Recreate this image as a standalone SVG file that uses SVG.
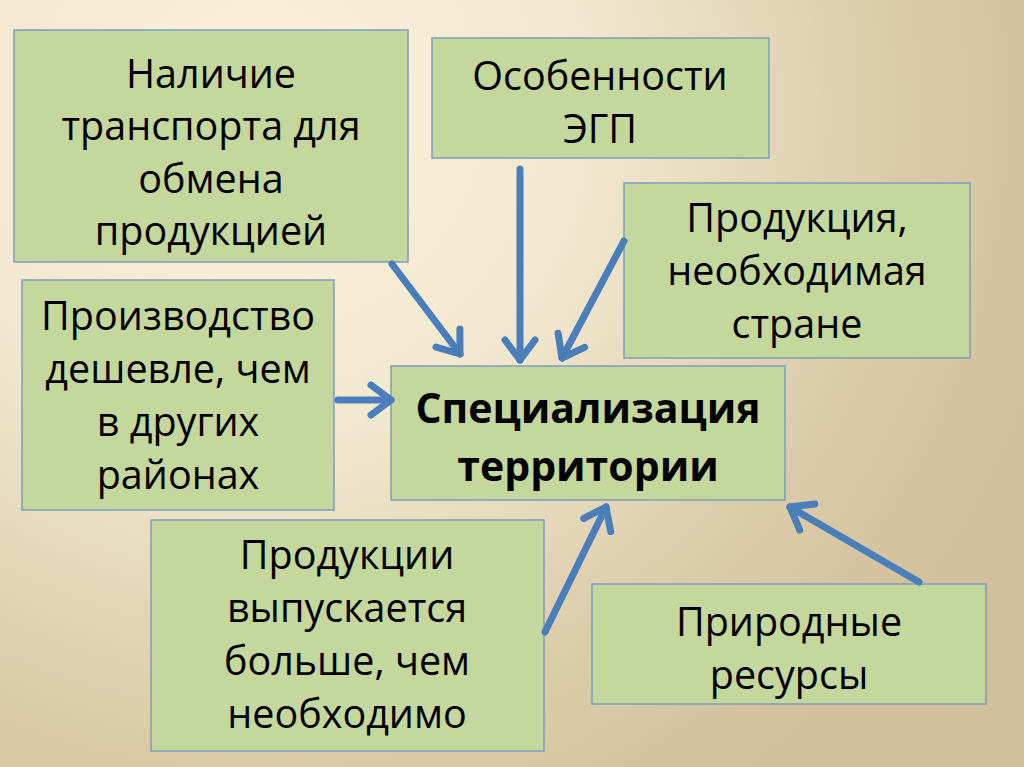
<svg xmlns="http://www.w3.org/2000/svg" width="1024" height="767" viewBox="0 0 1024 767">
<defs>
<radialGradient id="bg" cx="260" cy="110" r="820" gradientUnits="userSpaceOnUse">
<stop offset="0" stop-color="#fcf1da"/>
<stop offset="0.4" stop-color="#f2e8cf"/>
<stop offset="0.75" stop-color="#dccdab"/>
<stop offset="1" stop-color="#d2c09c"/>
</radialGradient>
<marker id="ah" markerUnits="userSpaceOnUse" viewBox="-30 -20 40 40" markerWidth="40" markerHeight="40" refX="0" refY="0" orient="auto">
<path d="M -20 -15 L 0 0 L -20 15" fill="none" stroke="#4a7ebb" stroke-width="7" stroke-linecap="round" stroke-linejoin="round"/>
</marker>
<style>
.box{fill:#c4d79c;stroke:#7f9cbf;stroke-width:1.5}
.t{font-family:"Open Sans","Noto Sans",sans-serif;font-size:39.5px;fill:#000;text-anchor:middle}
.b{font-family:"Open Sans","Noto Sans",sans-serif;font-size:41px;font-weight:bold;fill:#000;text-anchor:middle}
.c{stroke:#4a7ebb;stroke-width:7;fill:none;stroke-linecap:round;marker-end:url(#ah)}
</style>
</defs>
<rect width="1024" height="767" fill="url(#bg)"/>
<g id="n1"><rect class="box" x="14" y="30" width="394" height="232"/>
<text class="t" x="211" y="88">Наличие</text><text class="t" x="211" y="140">транспорта для</text><text class="t" x="211" y="193">обмена</text><text class="t" x="211" y="245">продукцией</text></g>
<g id="n2"><rect class="box" x="432" y="38" width="337" height="120"/>
<text class="t" x="600" y="90">Особенности</text><text class="t" x="600" y="143">ЭГП</text></g>
<g id="n3"><rect class="box" x="624" y="183" width="346" height="175"/>
<text class="t" x="797" y="232">Продукция,</text><text class="t" x="797" y="285">необходимая</text><text class="t" x="797" y="338">стране</text></g>
<g id="n4"><rect class="box" x="22" y="280" width="312" height="230"/>
<text class="t" x="178" y="330">Производство</text><text class="t" x="178" y="383">дешевле, чем</text><text class="t" x="178" y="436">в других</text><text class="t" x="178" y="489">районах</text></g>
<g id="n5"><rect class="box" x="391" y="366" width="394" height="134"/>
<text class="b" x="588" y="423">Специализация</text><text class="b" x="588" y="481">территории</text></g>
<g id="n6"><rect class="box" x="151" y="520" width="393" height="231"/>
<text class="t" x="347" y="569">Продукции</text><text class="t" x="347" y="622">выпускается</text><text class="t" x="347" y="675">больше, чем</text><text class="t" x="347" y="728">необходимо</text></g>
<g id="n7"><rect class="box" x="592" y="584" width="394" height="120"/>
<text class="t" x="789" y="636">Природные</text><text class="t" x="789" y="689">ресурсы</text></g>
<g id="connectors">
<line class="c" x1="392" y1="264" x2="460" y2="354"/>
<line class="c" x1="520" y1="169" x2="520" y2="360"/>
<line class="c" x1="624" y1="241" x2="562" y2="358"/>
<line class="c" x1="338" y1="400" x2="391" y2="400"/>
<line class="c" x1="545" y1="632" x2="606" y2="507"/>
<line class="c" x1="919" y1="582" x2="790" y2="507"/>
</g>
</svg>
